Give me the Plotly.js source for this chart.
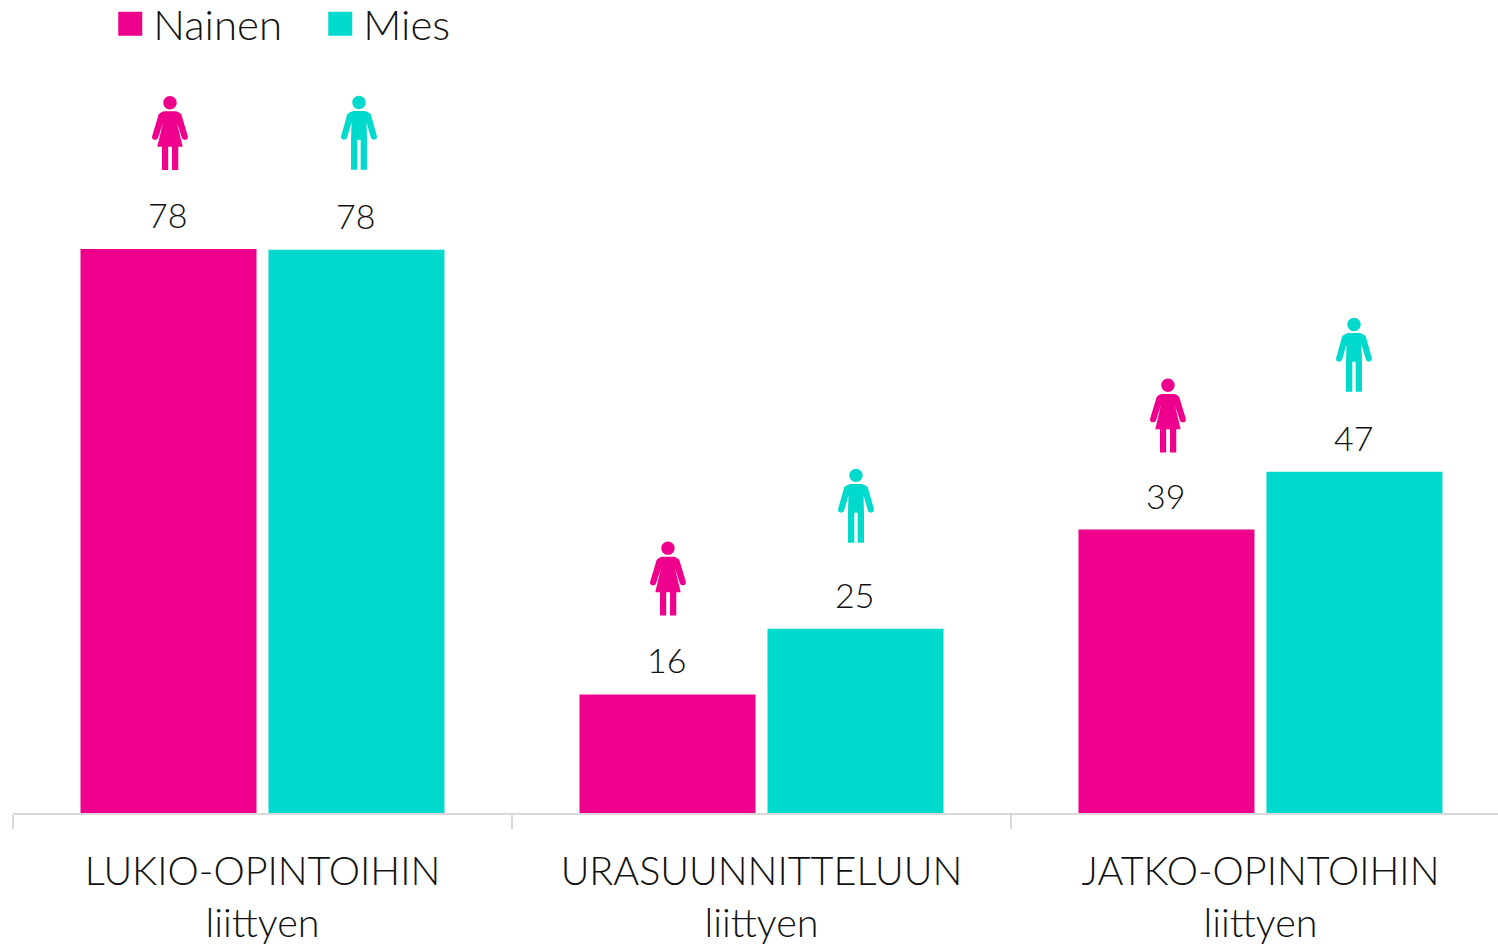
<!DOCTYPE html>
<html><head><meta charset="utf-8">
<script src="https://cdn.plot.ly/plotly-3.0.1.min.js"></script>
<style>html,body{margin:0;padding:0;background:#fff;overflow:hidden}</style>
</head><body><div id="chart" style="width:1498px;height:947px"></div>
<script>
const categories = ['LUKIO-OPINTOIHIN<br>liittyen','URASUUNNITTELUUN<br>liittyen','JATKO-OPINTOIHIN<br>liittyen'];
const seriesNames = ['Nainen','Mies'];
const nainen = [78, 16.4, 39.2];
const mies = [77.9, 25.5, 47.2];
const nainenLabels = ['78','16','39'];
const miesLabels = ['78','25','47'];
const PINK = '#ef008c', TEAL = '#00dacc';
const FONT = 'Lato';

const slot = 0.1884; // half a bar slot, in category units
const womanLift = [79,79,77], manLift = [80,86,80];
const womanNudge = [1.5,0.5,1.5], manNudge = [2.5,0.5,-0.5];

function head(){ const r=6.7,k=r*0.5523,c=67.3;
  return `M0,${c+r}C${k},${c+r} ${r},${c+k} ${r},${c}C${r},${c-k} ${k},${c-r} 0,${c-r}C${-k},${c-r} ${-r},${c-k} ${-r},${c}C${-r},${c+k} ${-k},${c+r} 0,${c+r}Z`; }
function poly(pts){ return 'M'+pts.map(p=>p.join(',')).join('L')+'Z'; }
function mirror(pts){ return pts.map(p=>[-p[0],p[1]]).reverse(); }
// y measured upward from the icon's feet
const womanRight = [[0,58.7],[6.3,58.7],[9,57.5],[11.3,55.7],[18,33.3],[17.5,31],[15,30],[12.5,31],[11.8,32.5],[7,47.3],[12.7,23.3]];
const manRight = [[0,58.7],[6,58.7],[9,57.5],[11.7,55.7],[18,33.3],[17.5,31],[15,30],[12.5,31],[11.8,32.5],[7.5,47.3],[8,30],[8,0],[1.7,0],[1.7,30]];
const womanPath = poly([...mirror(womanRight),...womanRight.slice(1)]) + poly([[-8,23.3],[-1.8,23.3],[-1.8,0],[-8,0]]) + poly([[2,23.3],[8.3,23.3],[8.3,0],[2,0]]) + head();
const manPath = poly([...mirror(manRight),...manRight.slice(1)]) + head();

function shift(path,dx){ return path.replace(/(-?[\d.]+),(-?[\d.]+)/g,(m,a,b)=>`${(+a+dx).toFixed(2)},${b}`); }
function lift(path,dy){ return path.replace(/(-?[\d.]+),(-?[\d.]+)/g,(m,a,b)=>`${a},${(+b+dy).toFixed(2)}`); }

const shapes = [], annotations = [];
function addIcons(vals,labels,sign,path,color,lifts,nudges){
  vals.forEach((v,i)=>{
    shapes.push({type:'path',xref:'x',yref:'y',xsizemode:'pixel',ysizemode:'pixel',
      xanchor:i+sign*slot,yanchor:v,path:lift(shift(path,nudges[i]),lifts[i]),
      fillcolor:color,line:{width:0},layer:'above'});
    annotations.push({xref:'x',yref:'y',x:i+sign*slot,y:v,text:labels[i],showarrow:false,
      yanchor:'bottom',xanchor:'center',yshift:12,xshift:-1,font:{family:FONT,size:34,color:'#111',weight:300}});
  });
}
addIcons(nainen,nainenLabels,-1,womanPath,PINK,womanLift,womanNudge);
addIcons(mies,miesLabels,1,manPath,TEAL,manLift,manNudge);

const traces = [
 {type:'bar',name:seriesNames[0],x:categories,y:nainen,marker:{color:PINK},hoverinfo:'x+y'},
 {type:'bar',name:seriesNames[1],x:categories,y:mies,marker:{color:TEAL},hoverinfo:'x+y'}
];
const layout = {
  width:1498,height:947,margin:{l:13,r:0,t:0,b:134,pad:0,autoexpand:false},
  paper_bgcolor:'#fff',plot_bgcolor:'#fff',
  barmode:'group',bargap:0.2465,bargroupgap:0.0638,
  font:{family:FONT,color:'#111',weight:300},
  showlegend:true,
  legend:{orientation:'h',x:0.0675,xanchor:'left',y:1.0125,yanchor:'top',
    font:{family:FONT,size:42,color:'#111',weight:300},entrywidth:165,entrywidthmode:'pixels',
    bgcolor:'rgba(0,0,0,0)',borderwidth:0},
  xaxis:{type:'category',range:[-0.5,2.476],tickson:'boundaries',ticks:'outside',ticklen:14,tickwidth:2,
    tickcolor:'#d9d9d9',showline:true,linecolor:'#d9d9d9',linewidth:2,showgrid:false,zeroline:false,
    tickfont:{family:FONT,size:39.5,color:'#111',weight:300},tickangle:0,automargin:false,
    ticklabelstandoff:23,fixedrange:true},
  yaxis:{range:[0,112.45],visible:false,fixedrange:true},
  shapes,annotations
};
Plotly.newPlot('chart',traces,layout,{displayModeBar:false,responsive:false}).then(()=>{
  document.querySelectorAll('#chart .legend .legendpoints path').forEach(p=>{
    p.setAttribute('transform','translate(17,0) scale(2)');
  });
});
</script></body></html>
